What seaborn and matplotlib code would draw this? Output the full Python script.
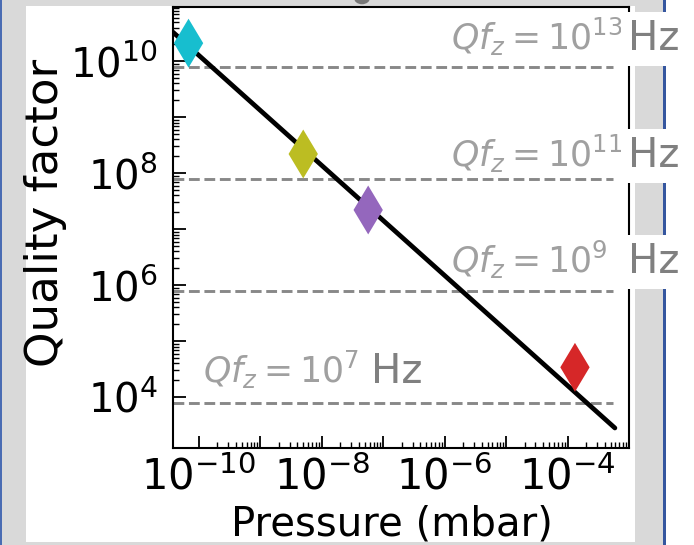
import numpy as np
import seaborn as sns
import matplotlib.pyplot as plt
from matplotlib.patches import Rectangle, Circle
from matplotlib.ticker import FixedLocator, FuncFormatter
from matplotlib.transforms import blended_transform_factory

# --- data ---
samples = ["A", "B", "C", "D"]
pressure = [6.8e-11, 5.0e-9, 5.7e-8, 1.32e-4]          # mbar
quality = [2.1e10, 2.2e8, 2.2e7, 3.4e4]
sample_colors = ["#17becf", "#bcbd22", "#9467bd", "#d62728"]

fit_pressure = [3.8e-11, 5.9e-4]
fit_quality = [3.3e10, 2.8e3]

qfz_exponents = ["13", "11", "9", "7"]
qfz_lines = [7.8e9, 7.8e7, 7.8e5, 7.8e3]
line_end = 5.5e-4

sns.set_theme(style="ticks")
plt.rcParams["font.family"] = "DejaVu Sans"
plt.rcParams["mathtext.fontset"] = "dejavusans"

W, H = 694, 545
fig = plt.figure(figsize=(W / 100, H / 100), dpi=100)
fig.patch.set_facecolor("#d9d9d9")


def px_rect(x0, y0, x1, y1, color, z):
    # rectangle given in pixel coords measured from the top-left corner
    r = Rectangle((x0 / W, 1 - y1 / H), (x1 - x0) / W, (y1 - y0) / H,
                  transform=fig.transFigure, facecolor=color,
                  edgecolor="none", zorder=z)
    fig.add_artist(r)


# screenshot frame around the figure
px_rect(26, 6, 635, 542, "white", -5)
px_rect(666, 0, 694, 545, "white", -5)
px_rect(0, 0, 1.5, 545, "#4a6cb3", -4)
px_rect(663, 0, 665.5, 545, "#35569f", -4)
fig.add_artist(Circle((362 / W, 1 + 2 / H), 8 / W, transform=fig.transFigure,
                      facecolor="#777777", edgecolor="none", zorder=-4))

ax = fig.add_axes([173 / W, 1 - 448 / H, 456 / W, 441 / H])
ax.set_facecolor("white")
ax.set_xscale("log")
ax.set_yscale("log")

ax.hlines(qfz_lines, fit_pressure[0], line_end, colors="#888888",
          linestyles="--", linewidth=2.1, zorder=1)

sns.lineplot(x=fit_pressure, y=fit_quality, color="black", linewidth=3.4,
             ax=ax, zorder=2)
sns.scatterplot(x=pressure, y=quality, hue=samples, palette=sample_colors,
                marker="d", s=620, linewidth=0, legend=False, ax=ax, zorder=3)

ax.set_xlim(3.8e-11, 1e-3)
ax.set_ylim(1.23e3, 9.3e10)

# Qf_z labels
tr = blended_transform_factory(ax.transAxes, ax.transData)
label_pos = [(0.610, 0.998, 1.57e10), (0.610, 0.998, 1.28e8),
             (0.610, 0.998, 1.64e6), (0.066, 0.434, 1.78e4)]
for i, (exp, (xm, xh, yb)) in enumerate(zip(qfz_exponents, label_pos)):
    ax.text(xm, yb, rf"$Qf_z = 10^{{{exp}}}$", transform=tr, fontsize=25,
            color="#a0a0a0", ha="left", va="baseline", clip_on=False,
            zorder=4)
    box = dict(facecolor="white", edgecolor="none", pad=5) if i < 3 else None
    ax.text(xh, yb, "Hz", transform=tr, fontsize=29, color="#808080",
            ha="left", va="baseline", clip_on=False, zorder=5, bbox=box)


def even_decades(v, pos):
    e = int(round(np.log10(v)))
    return rf"$\mathdefault{{10^{{{e}}}}}$" if e % 2 == 0 else ""


x_major = [10.0 ** e for e in range(-10, -2)]
y_major = [10.0 ** e for e in range(4, 12)]
x_minor = [m * 10.0 ** e for e in range(-10, -3) for m in range(2, 10)]
y_minor = [m * 10.0 ** e for e in range(4, 11) for m in range(2, 10)]
ax.xaxis.set_major_locator(FixedLocator(x_major))
ax.yaxis.set_major_locator(FixedLocator(y_major))
ax.xaxis.set_minor_locator(FixedLocator(x_minor))
ax.yaxis.set_minor_locator(FixedLocator(y_minor))
ax.xaxis.set_major_formatter(FuncFormatter(even_decades))
ax.yaxis.set_major_formatter(FuncFormatter(even_decades))
ax.xaxis.set_minor_formatter(FuncFormatter(lambda v, p: ""))
ax.yaxis.set_minor_formatter(FuncFormatter(lambda v, p: ""))

ax.tick_params(which="both", direction="in", top=False, right=False,
               colors="black")
ax.tick_params(axis="x", which="major", labelsize=30, pad=6)
ax.tick_params(axis="y", which="major", labelsize=29, pad=11)
ax.tick_params(which="major", length=9, width=1.3)
ax.tick_params(which="minor", length=4.5, width=1.0)
for sp in ax.spines.values():
    sp.set_linewidth(1.5)
    sp.set_color("black")

ax.set_xlabel("Pressure (mbar)", fontsize=29, color="black")
ax.set_ylabel("Quality factor", fontsize=32.5, color="black")
ax.xaxis.set_label_coords(0.480, -0.127)
ax.yaxis.set_label_coords(-0.232, 0.533)

fig.savefig("out.png", dpi=100, facecolor=fig.get_facecolor())
